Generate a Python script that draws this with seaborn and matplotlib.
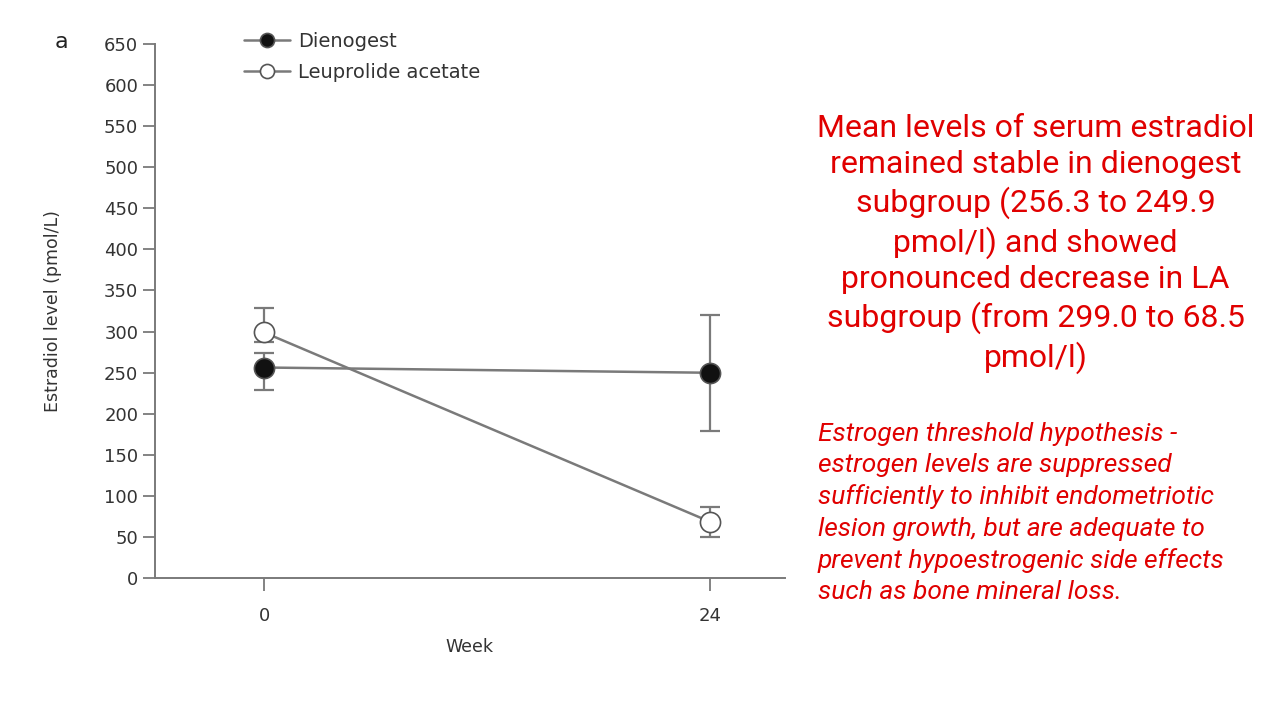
import numpy as np
import pandas as pd
import matplotlib
matplotlib.use('Agg')
import matplotlib.pyplot as plt
import seaborn as sns

# datos
semanas = [0, 24]
dienogest = [256.3, 249.9]
dienogest_inf = [229, 179]
dienogest_sup = [274, 320]
leuprolida = [299.0, 68.5]
leuprolida_inf = [287, 50]
leuprolida_sup = [329, 86]
yticks = list(range(0, 651, 50))

sns.set_style('white')
plt.rcParams['font.family'] = ['DejaVu Sans']

df = pd.DataFrame({
    'Week': semanas * 2,
    'Estradiol': dienogest + leuprolida,
    'grupo': ['Dienogest'] * 2 + ['Leuprolide acetate'] * 2,
})

fig = plt.figure(figsize=(12.8, 7.2), dpi=100)
ax = fig.add_axes([0.121, 0.197, 0.492, 0.742])

gris = '#7a7a7a'
texto = '#333333'

# barras de error
for y, lo, hi in [(dienogest, dienogest_inf, dienogest_sup), (leuprolida, leuprolida_inf, leuprolida_sup)]:
    err = [np.array(y) - np.array(lo), np.array(hi) - np.array(y)]
    ax.errorbar(semanas, y, yerr=err, fmt='none', ecolor=gris, elinewidth=1.6, capsize=7, capthick=1.6, zorder=2)

sns.lineplot(data=df[df.grupo == 'Dienogest'], x='Week', y='Estradiol', ax=ax, color=gris, lw=1.8,
             marker='o', markersize=14.5, markerfacecolor='#111111', markeredgecolor='#555555',
             markeredgewidth=1.2, label='Dienogest', zorder=3)
sns.lineplot(data=df[df.grupo == 'Leuprolide acetate'], x='Week', y='Estradiol', ax=ax, color=gris, lw=1.8,
             marker='o', markersize=14.5, markerfacecolor='white', markeredgecolor='#555555',
             markeredgewidth=1.2, label='Leuprolide acetate', zorder=3)

ax.set_xlim(-5.87, 28.0)
ax.set_ylim(0, 650)
ax.set_xticks(semanas)
ax.set_yticks(yticks)
ax.tick_params(axis='both', direction='out', length=9, width=1.3, color=gris, labelsize=13,
               labelcolor=texto, pad=3, left=True, bottom=True)
ax.tick_params(axis='x', pad=12)
for s in ['top', 'right']:
    ax.spines[s].set_visible(False)
for s in ['left', 'bottom']:
    ax.spines[s].set_color(gris)
    ax.spines[s].set_linewidth(1.4)

ax.set_xlabel('Week', fontsize=12.5, color=texto, labelpad=9)
ax.set_ylabel('Estradiol level (pmol/L)', fontsize=12.5, color=texto, labelpad=30)

leg = ax.legend(loc='upper left', bbox_to_anchor=(0.113, 1.056), frameon=False, fontsize=14,
                handlelength=2.4, labelspacing=0.65, handletextpad=0.4, markerscale=0.7)
for t in leg.get_texts():
    t.set_color(texto)

fig.text(0.043, 0.941, 'a', fontsize=16, color='#222222', ha='left', va='center')

rojo = '#e00000'
fig.text(0.809, 0.661,
         'Mean levels of serum estradiol\nremained stable in dienogest\nsubgroup (256.3 to 249.9\npmol/l) and showed\npronounced decrease in LA\nsubgroup (from 299.0 to 68.5\npmol/l)',
         fontsize=23, color=rojo, ha='center', va='center', family=['Roboto', 'DejaVu Sans'],
         linespacing=1.29)
fig.text(0.639, 0.2875,
         'Estrogen threshold hypothesis -\nestrogen levels are suppressed\nsufficiently to inhibit endometriotic\nlesion growth, but are adequate to\nprevent hypoestrogenic side effects\nsuch as bone mineral loss.',
         fontsize=19, color=rojo, ha='left', va='center', style='italic',
         family=['Roboto', 'DejaVu Sans'], linespacing=1.38)

fig.savefig('out.png', dpi=100)
